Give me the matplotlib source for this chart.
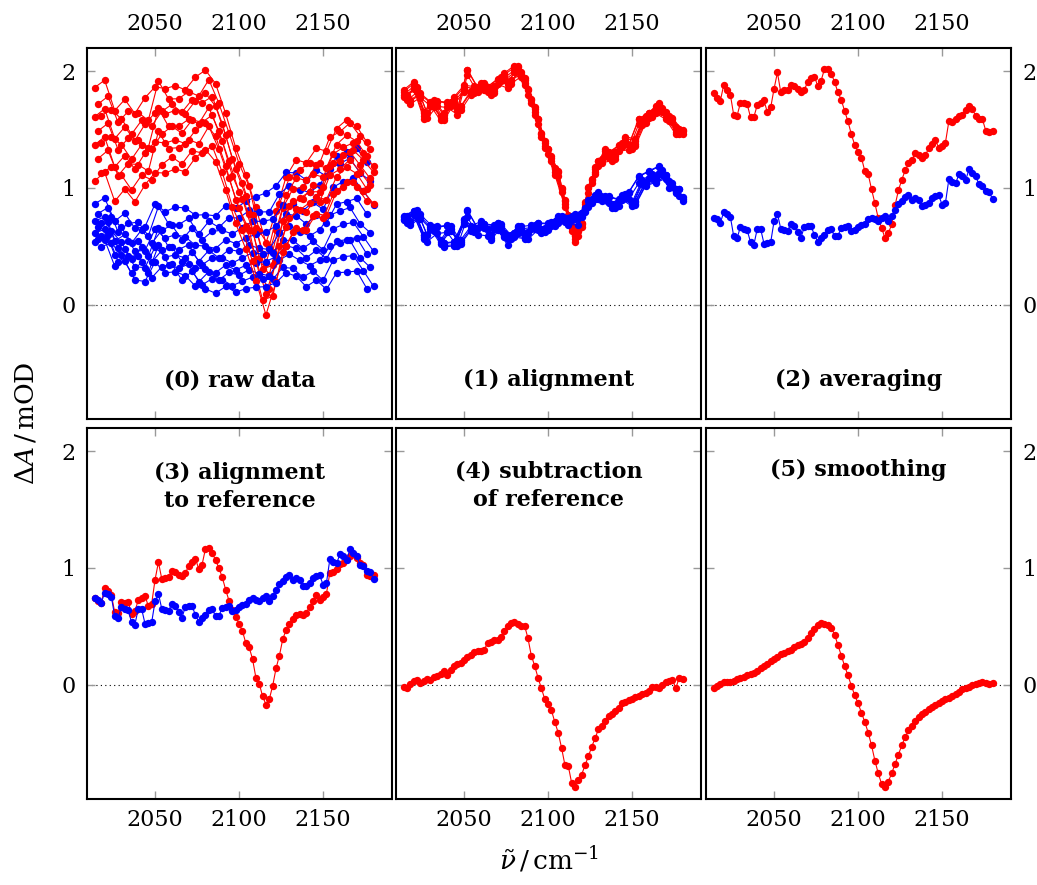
import numpy as np
import matplotlib.pyplot as plt

plt.rcParams["font.family"] = "DejaVu Serif"
plt.rcParams["mathtext.fontset"] = "dejavuserif"

# wavenumber grid (cm^-1)
wn = np.arange(2014, 2181, 2)

# (2) averaged spectra
red_avg = [1.81, 1.77, 1.745, 1.88, 1.84, 1.80, 1.625, 1.62, 1.73, 1.725, 1.72, 1.605,
           1.61, 1.71, 1.73, 1.75, 1.65, 1.69, 1.85, 1.99, 1.82, 1.84, 1.84, 1.886,
           1.87, 1.845, 1.826, 1.84, 1.91, 1.94, 1.955, 1.875, 1.92, 2.02, 2.02, 1.98,
           1.91, 1.82, 1.755, 1.66, 1.57, 1.46, 1.37, 1.31, 1.26, 1.145, 1.12, 0.99,
           0.87, 0.74, 0.66, 0.57, 0.61, 0.69, 0.85, 0.98, 1.07, 1.15, 1.21, 1.24,
           1.30, 1.28, 1.26, 1.28, 1.34, 1.38, 1.41, 1.345, 1.36, 1.39, 1.57, 1.565,
           1.59, 1.62, 1.63, 1.67, 1.70, 1.674, 1.62, 1.59, 1.59, 1.49, 1.48, 1.485]
blue_avg = [0.744, 0.73, 0.70, 0.79, 0.78, 0.753, 0.586, 0.57, 0.667, 0.65, 0.64, 0.535,
            0.515, 0.65, 0.65, 0.524, 0.53, 0.535, 0.715, 0.78, 0.65, 0.644, 0.63, 0.695,
            0.678, 0.62, 0.573, 0.667, 0.672, 0.672, 0.60, 0.538, 0.575, 0.60, 0.644, 0.65,
            0.585, 0.59, 0.66, 0.667, 0.672, 0.63, 0.64, 0.667, 0.687, 0.695, 0.73, 0.744,
            0.73, 0.715, 0.744, 0.758, 0.715, 0.764, 0.815, 0.867, 0.887, 0.924, 0.936, 0.90,
            0.916, 0.90, 0.844, 0.85, 0.873, 0.916, 0.93, 0.936, 0.858, 0.873, 1.073, 1.05,
            1.039, 1.116, 1.10, 1.067, 1.159, 1.13, 1.10, 1.03, 1.02, 0.973, 0.964, 0.907]

# (3) red aligned to reference
red_ref = [0.744, 0.715, 0.70, 0.83, 0.80, 0.77, 0.62, 0.615, 0.706, 0.70, 0.706, 0.61,
           0.63, 0.724, 0.744, 0.764, 0.672, 0.695, 0.90, 1.05, 0.907, 0.916, 0.924, 0.973,
           0.964, 0.944, 0.93, 0.953, 1.02, 1.05, 1.08, 0.993, 1.03, 1.165, 1.173, 1.13,
           1.067, 1.0, 0.92, 0.815, 0.72, 0.64, 0.58, 0.52, 0.46, 0.357, 0.32, 0.22,
           0.06, 0.01, -0.10, -0.17, -0.123, -0.01, 0.14, 0.25, 0.39, 0.47, 0.52, 0.56,
           0.60, 0.61, 0.60, 0.615, 0.67, 0.72, 0.77, 0.73, 0.75, 0.78, 0.96, 0.964,
           0.99, 1.035, 1.045, 1.073, 1.107, 1.116, 1.09, 1.04, 1.03, 0.944, 0.93, 0.944]

# (4) difference spectrum
sub = [-0.02, -0.03, 0.01, 0.03, 0.037, 0.014, 0.03, 0.05, 0.043, 0.066, 0.077, 0.094,
       0.114, 0.086, 0.123, 0.157, 0.18, 0.186, 0.21, 0.237, 0.257, 0.277, 0.286, 0.286,
       0.30, 0.357, 0.363, 0.38, 0.386, 0.41, 0.457, 0.506, 0.53, 0.535, 0.524, 0.50,
       0.506, 0.40, 0.25, 0.163, 0.06, -0.03, -0.123, -0.163, -0.22, -0.32, -0.41, -0.54,
       -0.687, -0.695, -0.84, -0.878, -0.82, -0.77, -0.69, -0.615, -0.53, -0.46, -0.38, -0.35,
       -0.31, -0.265, -0.25, -0.225, -0.20, -0.16, -0.145, -0.13, -0.123, -0.106, -0.10, -0.08,
       -0.07, -0.057, -0.02, -0.02, -0.03, 0.0, 0.02, 0.03, 0.043, -0.03, 0.057, 0.05]

# (5) smoothed difference
smooth = [-0.026, -0.01, 0.005, 0.02, 0.023, 0.025, 0.035, 0.05, 0.06, 0.07, 0.08, 0.09,
          0.10, 0.12, 0.14, 0.16, 0.18, 0.20, 0.22, 0.24, 0.26, 0.275, 0.29, 0.30,
          0.32, 0.34, 0.35, 0.37, 0.40, 0.44, 0.48, 0.51, 0.525, 0.52, 0.51, 0.49,
          0.43, 0.34, 0.25, 0.16, 0.08, -0.01, -0.09, -0.16, -0.24, -0.32, -0.41, -0.52,
          -0.65, -0.76, -0.85, -0.875, -0.83, -0.76, -0.68, -0.60, -0.52, -0.45, -0.39, -0.35,
          -0.31, -0.28, -0.25, -0.23, -0.21, -0.19, -0.17, -0.155, -0.14, -0.125, -0.11, -0.095,
          -0.08, -0.06, -0.04, -0.03, -0.02, -0.005, 0.005, 0.015, 0.02, 0.015, 0.01, 0.014]

# per-scan baseline (start / end of range) of raw data, and residual after alignment
red_off_start = [0.05, -0.05, -0.12, -0.20, -0.28, -0.36, -0.44, -0.52, -0.62, -0.75]
red_off_end = [-0.10, -0.15, -0.30, -0.22, -0.40, -0.35, -0.50, -0.45, -0.62, -0.60]
blue_off_start = [0.12, 0.05, 0.0, -0.03, -0.06, -0.10, -0.13, -0.16, -0.19, -0.21]
blue_off_end = [0.25, 0.10, -0.05, -0.20, -0.35, -0.45, -0.55, -0.65, -0.75, -0.85]
red_resid = [0.03, -0.02, 0.01, -0.03, 0.02, 0.0, -0.01, 0.025, -0.025, 0.015]
blue_resid = [-0.02, 0.025, 0.0, 0.015, -0.03, 0.02, -0.01, 0.03, -0.015, 0.01]

titles = ["(0) raw data", "(1) alignment", "(2) averaging",
          "(3) alignment\nto reference", "(4) subtraction\nof reference", "(5) smoothing"]
title_y = [0.105, 0.105, 0.105, 0.84, 0.844, 0.887]

RED, BLUE = "#ff0000", "#0000ff"
mk = dict(marker="o", ms=5.3, mew=0, lw=0.8)

W, H = 1037, 885
fig = plt.figure(figsize=(W / 100, H / 100), dpi=100)
lefts = [87, 396, 706]
tops = [48, 428]
axes = []
for r in range(2):
    for c in range(3):
        ax = fig.add_axes([lefts[c] / W, 1 - (tops[r] + 371) / H, 305 / W, 371 / H])
        ax.set_xlim(2009.5, 2191)
        ax.set_ylim(-0.98, 2.2)
        ax.set_xticks([2050, 2100, 2150])
        ax.set_yticks([0, 1, 2])
        ax.tick_params(direction="in", length=6, width=1, color="#999999",
                       top=True, right=True, labelsize=16,
                       labeltop=(r == 0), labelbottom=(r == 1),
                       labelleft=(c == 0), labelright=(c == 2))
        ax.tick_params(axis="x", pad=9 if r == 0 else 7)
        ax.tick_params(axis="y", pad=8)
        ax.axhline(0, color="black", lw=0.8, ls=(0, (1, 3)), zorder=1)
        for s in ax.spines.values():
            s.set_linewidth(1.5)
        i = 3 * r + c
        ax.text(0.5, title_y[i], titles[i], transform=ax.transAxes, ha="center",
                va="center", fontsize=16, fontweight="bold", linespacing=1.35)
        axes.append(ax)

ra = np.array(red_avg)
ba = np.array(blue_avg)

# (0) raw scans: every third grid point, each with its own baseline
for i in range(len(red_off_start)):
    k = i % 3
    rb = np.linspace(red_off_start[i], red_off_end[i], len(wn))
    bb = np.linspace(blue_off_start[i], blue_off_end[i], len(wn))
    axes[0].plot(wn[k::3], (ra + rb)[k::3], color=RED, **mk)
    axes[0].plot(wn[k::3], (ba + bb)[k::3], color=BLUE, **mk)

# (1) aligned scans
for i in range(len(red_resid)):
    k = i % 3
    axes[1].plot(wn[k::3], ra[k::3] + red_resid[i], color=RED, **mk)
for i in range(len(blue_resid)):
    k = i % 3
    axes[1].plot(wn[k::3], ba[k::3] + blue_resid[i], color=BLUE, **mk)

axes[2].plot(wn, red_avg, color=RED, **mk)
axes[2].plot(wn, blue_avg, color=BLUE, **mk)
axes[3].plot(wn, red_ref, color=RED, **mk)
axes[3].plot(wn, blue_avg, color=BLUE, **mk)
axes[4].plot(wn, sub, color=RED, **mk)
axes[5].plot(wn, smooth, color=RED, **mk)

fig.text(549 / W, 1 - 860 / H, r"$\tilde{\nu}\,/\,\mathrm{cm}^{-1}$", ha="center",
         va="center", fontsize=19)
fig.text(26 / W, 1 - 423 / H, r"$\Delta A\,/\,\mathrm{mOD}$", ha="center",
         va="center", rotation=90, fontsize=19)

fig.savefig("out.png", dpi=100)
